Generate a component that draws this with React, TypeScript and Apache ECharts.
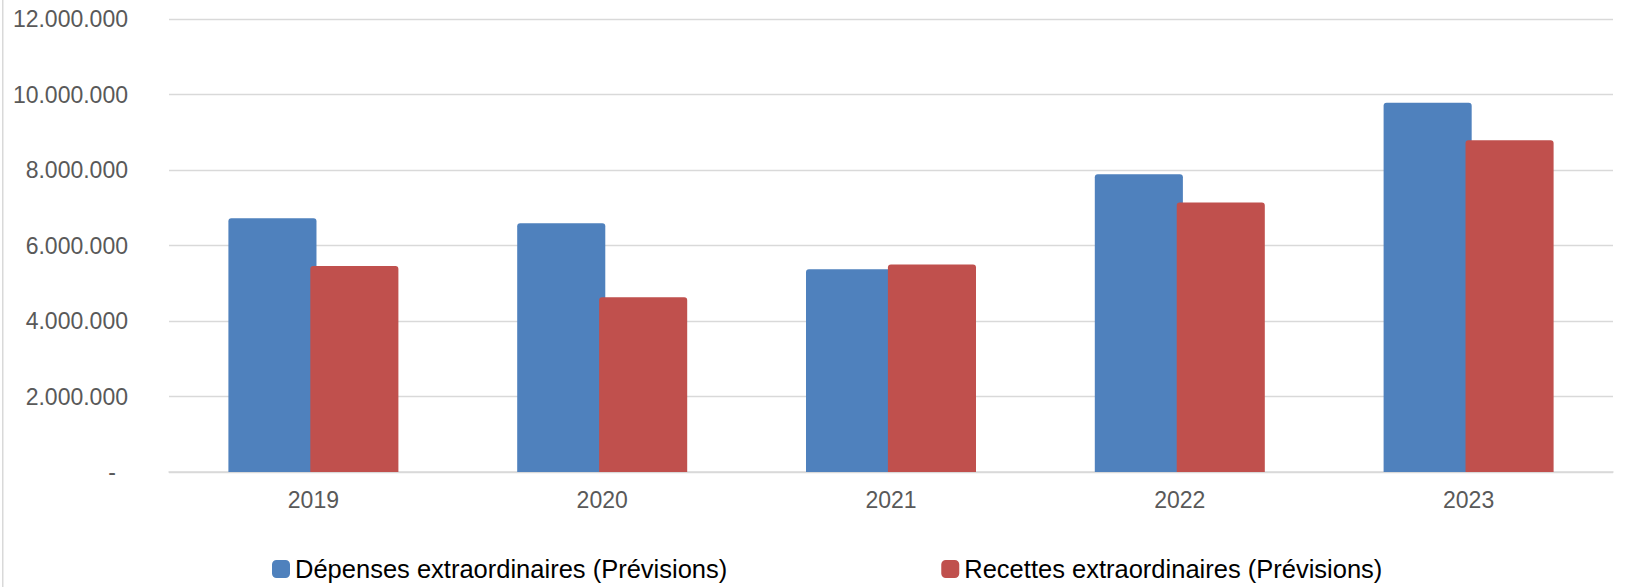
import React, { useEffect, useRef } from "react";
import * as echarts from "echarts";

const years = ["2019", "2020", "2021", "2022", "2023"];
const depenses = [6720000, 6590000, 5370000, 7890000, 9780000];
const recettes = [5460000, 4630000, 5500000, 7140000, 8790000];
const seriesNames = [
  "Dépenses extraordinaires (Prévisions)",
  "Recettes extraordinaires (Prévisions)",
];

function fmt(v: number): string {
  if (v === 0) return "{d|-}";
  return String(v).replace(/\B(?=(\d{3})+(?!\d))/g, ".");
}

export default function App() {
  const ref = useRef<HTMLDivElement>(null);
  useEffect(() => {
    if (!ref.current) return;
    const chart = echarts.init(ref.current, undefined, { renderer: "svg" });
    const font = "'Liberation Sans', Arial, sans-serif";
    chart.setOption({
      animation: false,
      backgroundColor: "#ffffff",
      grid: { left: 169, right: 17, top: 19, bottom: 115, containLabel: false },
      legend: {
        left: 272,
        top: 554,
        itemWidth: 18,
        itemHeight: 18,
        itemGap: 214,
        padding: 0,
        icon: "roundRect",
        textStyle: { fontFamily: font, fontSize: 25.5, color: "#000000", lineHeight: 30 },
        data: seriesNames,
      },
      xAxis: {
        type: "category",
        data: years,
        axisLine: { show: true, lineStyle: { color: "#d9d9d9", width: 1.5 } },
        axisTick: { show: false },
        axisLabel: { fontFamily: font, fontSize: 23, color: "#595959", margin: 16 },
      },
      yAxis: {
        type: "value",
        min: 0,
        max: 12000000,
        interval: 2000000,
        axisLine: { show: false },
        axisTick: { show: false },
        splitLine: { lineStyle: { color: "#d9d9d9", width: 1.3 } },
        axisLabel: {
          fontFamily: font,
          fontSize: 23,
          color: "#595959",
          margin: 41,
          formatter: fmt,
          rich: {
            d: { fontFamily: font, fontSize: 23, color: "#595959", padding: [0, 12, 0, 0] },
          },
        },
      },
      graphic: [
        {
          type: "rect",
          left: 2,
          top: 0,
          shape: { x: 0, y: 0, width: 1.5, height: 587 },
          style: { fill: "#d9d9d9" },
          silent: true,
        },
      ],
      series: [
        {
          name: seriesNames[0],
          type: "bar",
          data: depenses,
          barWidth: "30.5%",
          barGap: "-7%",
          itemStyle: { color: "#4F81BD", borderRadius: [3, 3, 0, 0] },
        },
        {
          name: seriesNames[1],
          type: "bar",
          data: recettes,
          barWidth: "30.5%",
          barGap: "-7%",
          itemStyle: { color: "#C0504D", borderRadius: [3, 3, 0, 0] },
        },
      ],
    });
    return () => chart.dispose();
  }, []);
  return (
    <div
      ref={ref}
      style={{ position: "fixed", left: 0, top: 0, width: 1630, height: 587 }}
    />
  );
}
